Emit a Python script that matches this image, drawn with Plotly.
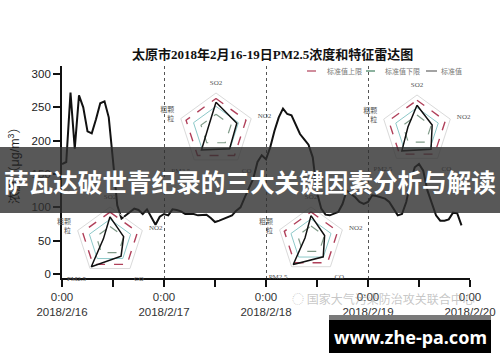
import plotly.graph_objects as go
import pandas as pd

# ---------------- data ----------------
pm25 = [165, 168, 272, 188, 268, 250, 214, 211, 232, 256, 259, 235, 170, 103, 83, 88, 93, 98, 96, 90, 97, 85, 74, 86,
        90, 88, 97, 96, 94, 90, 90, 90, 88, 89, 89, 84, 78, 80, 83, 86, 88, 95, 100, 115, 130, 143, 168, 178,
        172, 190, 215, 235, 248, 240, 238, 225, 210, 202, 194, 175, 122, 98, 89, 88, 90, 93, 105, 125, 120, 115, 108, 105,
        108, 118, 117, 115, 113, 108, 98, 88, 90, 108, 138, 160, 165, 155, 125, 105, 88, 80, 80, 82, 92, 91, 73]
start_time = "2018-02-16 00:00"
day_ticks = ["2018-02-16", "2018-02-17", "2018-02-18", "2018-02-19", "2018-02-20"]
day_labels = ["2018/2/16", "2018/2/17", "2018/2/18", "2018/2/19", "2018/2/20"]
noon_ticks = ["2018-02-16 12:00", "2018-02-17 12:00", "2018-02-18 12:00", "2018-02-19 12:00"]
y_ticks = [0, 50, 100, 150, 200, 250, 300]

radar_axes = ["SO2", "NO2", "CO", "PM2.5", "粗颗<br>粒"]
std_upper = [2.0, 2.0, 2.0, 2.0, 2.0]
std_mid = [1.5, 1.5, 1.5, 1.5, 1.5]
std_lower = [1.0, 1.0, 1.0, 1.0, 1.0]
radar_a = [1.76, 1.39, 1.47, 1.57, 0.52]
radar_b = [1.66, 1.07, 1.60, 1.73, 0.64]
radar_c = [1.67, 0.99, 1.30, 2.20, 0.48]
radar_d = [1.74, 1.02, 1.48, 2.15, 0.45]
legend_names = ["标准值上限", "标准值下限", "标准值"]

title_text = "太原市2018年2月16-19日PM2.5浓度和特征雷达图"
ytitle_text = "浓度（μg/m<sup>3</sup>）"
banner_text = "萨瓦达破世青纪录的三大关键因素分析与解读"
site_text = "www.zhe-pa.com"
source_text = "国家大气污染防治攻关联合中心"

# ---------------- layout helpers ----------------
W, H = 500, 362
L, R, T, B = 62, 30, 66, 84
PW, PH = W - L - R, H - T - B


def fx(px):
    return (px - L) / PW


def fy(py):
    return (H - B - py) / PH


times = pd.date_range(start=start_time, periods=len(pm25), freq="h")

fig = go.Figure()
fig.add_trace(go.Scatter(x=times, y=pm25, mode="lines",
                         line=dict(color="#111111", width=2), showlegend=False, hoverinfo="skip"))

C_UP, C_MID, C_LOW = "#b0405a", "#8cc8c8", "#7f9a88"


def closed(v):
    return list(v) + [v[0]]


theta = closed(radar_axes)
radars = [
    ("polar", radar_a, (216, 130, 37)),
    ("polar2", radar_b, (417, 130, 35)),
    ("polar3", radar_c, (110, 241, 34)),
    ("polar4", radar_d, (311, 240, 33)),
]
for name, vals, (cx, cy, rr) in radars:
    fig.add_trace(go.Scatterpolar(r=closed(std_upper), theta=theta, subplot=name, mode="lines",
                                  line=dict(color=C_UP, width=1.4, dash="dash"), showlegend=False))
    fig.add_trace(go.Scatterpolar(r=closed(std_mid), theta=theta, subplot=name, mode="lines",
                                  line=dict(color=C_MID, width=1), showlegend=False))
    fig.add_trace(go.Scatterpolar(r=closed(std_lower), theta=theta, subplot=name, mode="lines",
                                  line=dict(color=C_LOW, width=1.2, dash="dash"), showlegend=False))
    fig.add_trace(go.Scatterpolar(r=closed(vals), theta=theta, subplot=name, mode="lines",
                                  line=dict(color="#111111", width=1.5), showlegend=False))
    fig.layout[name] = dict(
        domain=dict(x=[fx(cx - rr), fx(cx + rr)], y=[fy(cy + rr), fy(cy - rr)]),
        bgcolor="rgba(0,0,0,0)", gridshape="linear",
        radialaxis=dict(visible=False, range=[0, 2.35]),
        angularaxis=dict(direction="clockwise", rotation=90, showgrid=False, showline=True,
                         linecolor="#dadada", linewidth=1, ticks="outside", ticklen=5,
                         tickcolor="rgba(0,0,0,0)",
                         tickfont=dict(family="Liberation Serif, Noto Sans CJK SC", size=7, color="#555555")),
    )

fig.update_layout(
    width=W, height=H, margin=dict(l=L, r=R, t=T, b=B, autoexpand=False),
    paper_bgcolor="white", plot_bgcolor="white", showlegend=False,
    xaxis=dict(type="date", range=[day_ticks[0], day_ticks[-1]], automargin=False,
               tickmode="array", tickvals=day_ticks,
               ticktext=["0:00<br>" + d for d in day_labels],
               ticks="outside", ticklen=7, tickwidth=1.5, tickcolor="#111",
               showline=True, linecolor="#111", linewidth=1.8,
               showgrid=True, gridcolor="#555555", griddash="dot", gridwidth=1,
               zeroline=False,
               tickfont=dict(family="Liberation Sans, Arial", size=11.5, color="#333333"),
               minor=dict(tickmode="array", tickvals=noon_ticks, ticks="outside", ticklen=7,
                          tickwidth=1.5, tickcolor="#111", showgrid=False)),
    yaxis=dict(range=[-6, 312], tickmode="array", tickvals=y_ticks, automargin=False,
               ticks="outside", ticklen=7, tickwidth=1.5, tickcolor="#111",
               showline=True, linecolor="#111", linewidth=1.8, showgrid=False, zeroline=False,
               tickfont=dict(family="Liberation Sans, Arial", size=11.5, color="#222222")),
)

shapes = []
annotations = []

# legend (manual, compact)
leg = [(307, 321, C_UP, "dash", 325, legend_names[0]),
       (366, 380, "#3f7f5f", "dash", 383, legend_names[1]),
       (426, 437, "#666666", "solid", 439, legend_names[2])]
for x0, x1, col, dash, tx, txt in leg:
    shapes.append(dict(type="line", xref="paper", yref="paper", x0=fx(x0), x1=fx(x1), y0=fy(71), y1=fy(71),
                       line=dict(color=col, width=1.2, dash=dash)))
    annotations.append(dict(text=txt, xref="paper", yref="paper", x=fx(tx), y=fy(71), xanchor="left",
                            yanchor="middle", showarrow=False,
                            font=dict(family="Noto Sans CJK SC", size=7, color="#777777")))

# title
annotations.append(dict(text="<b>" + title_text + "</b>", xref="paper", yref="paper", x=fx(272), y=fy(54),
                        xanchor="center", yanchor="middle", showarrow=False,
                        font=dict(family="Liberation Serif, Noto Sans CJK SC", size=13, color="#111111")))
# y title
annotations.append(dict(text=ytitle_text, xref="paper", yref="paper", x=fx(14), y=fy(163), textangle=-90,
                        xanchor="center", yanchor="middle", showarrow=False,
                        font=dict(family="Liberation Sans, Noto Sans CJK SC", size=12.5, color="#222222")))
# faint source watermark
annotations.append(dict(text="◌ " + source_text, xref="paper", yref="paper", x=fx(290), y=fy(298),
                        xanchor="left", yanchor="middle", showarrow=False,
                        font=dict(family="Noto Sans CJK SC", size=12, color="rgba(150,150,150,0.55)")))

# banner
shapes.append(dict(type="rect", xref="paper", yref="paper", x0=fx(0), x1=fx(W), y0=fy(213), y1=fy(147),
                   fillcolor="rgba(46,46,46,0.8)", line=dict(width=0), layer="above"))
annotations.append(dict(text="<b>" + banner_text + "</b>", xref="paper", yref="paper", x=fx(250), y=fy(181),
                        xanchor="center", yanchor="middle", showarrow=False,
                        font=dict(family="Noto Sans CJK SC", size=24.6, color="white")))

# site box
shapes.append(dict(type="rect", xref="paper", yref="paper", x0=fx(329), x1=fx(491), y0=fy(320), y1=fy(315),
                   fillcolor="#7a7a7a", line=dict(width=0), layer="above"))
shapes.append(dict(type="rect", xref="paper", yref="paper", x0=fx(329), x1=fx(491), y0=fy(353), y1=fy(320),
                   fillcolor="#000000", line=dict(width=0), layer="above"))
annotations.append(dict(text="<b>" + site_text + "</b>", xref="paper", yref="paper", x=fx(410), y=fy(337),
                        xanchor="center", yanchor="middle", showarrow=False,
                        font=dict(family="Noto Sans", size=18, color="white")))

fig.update_layout(shapes=shapes, annotations=annotations)
fig.write_html("out.html")
